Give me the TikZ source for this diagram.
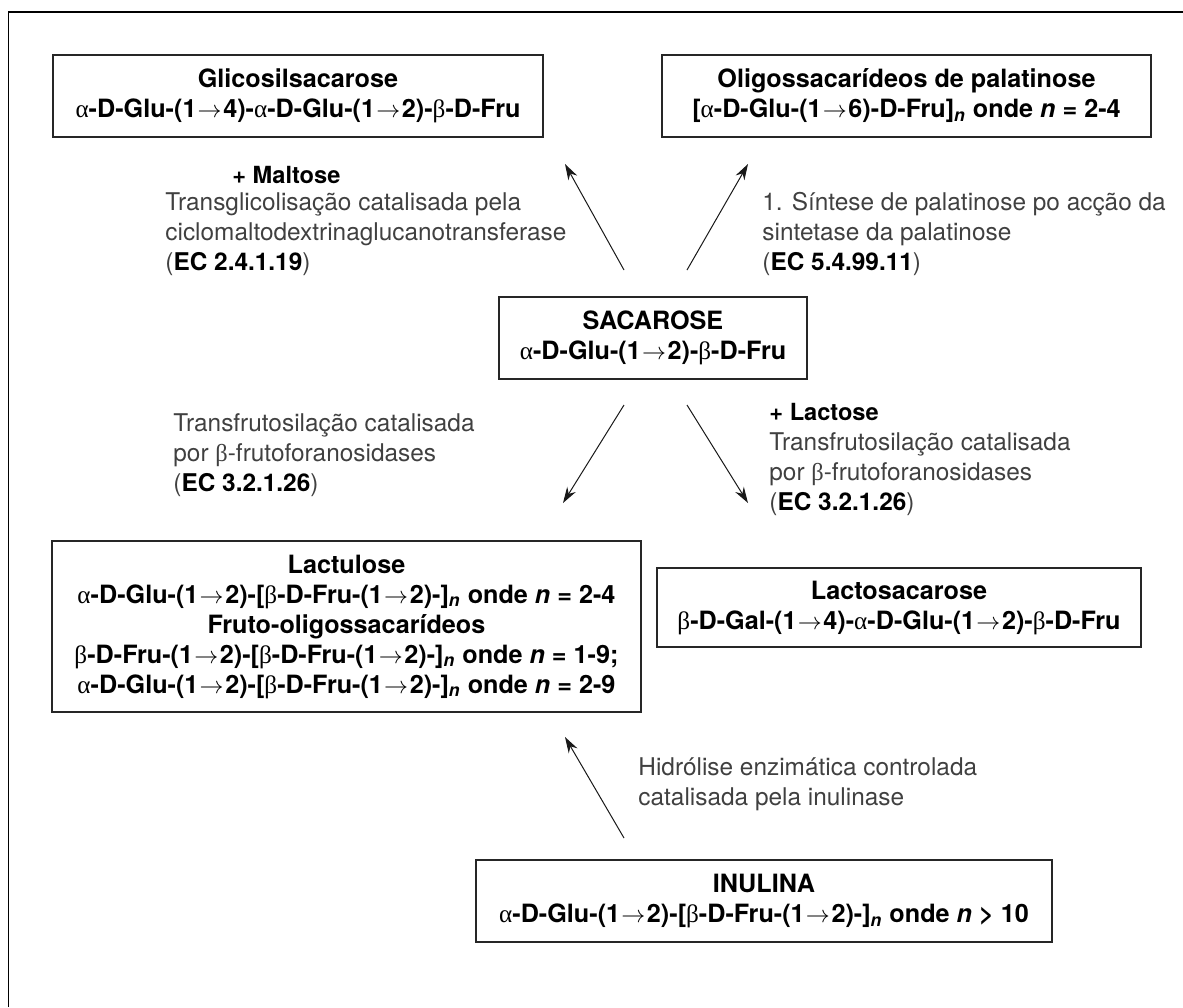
\documentclass[tikz,border=0pt]{standalone}
\usepackage{fontspec}
\setmainfont{TeX Gyre Heros}
\newfontfamily\grkfont{Liberation Serif}
\usetikzlibrary{arrows.meta}
% Greek letters in an upright serif, glycosidic link arrow, subscript n
\newcommand\ga{{\fontseries{m}\grkfont α}}
\newcommand\gb{{\fontseries{m}\grkfont β}}
\newcommand\lnk{\hspace{0.6pt}$\rightarrow$\hspace{0.8pt}}
\newcommand\sbn{\textsubscript{\textit{n}}}
\begin{document}
\begin{tikzpicture}[x=0.5pt,y=-0.5pt,
  box/.style={draw=black!85, line width=0.6pt, inner sep=0pt, align=center,
    font=\bfseries\fontsize{12.6}{15}\selectfont, text=black},
  lbl/.style={inner sep=0pt, align=left, anchor=base west,
    font=\fontsize{12.2}{15}\selectfont, text=black!75},
  flow/.style={-{Stealth[length=8pt,width=5pt]}, line width=0.5pt, black!90}]
\useasboundingbox (0,0) rectangle (1183,1007);
% frame
\draw[line width=0.8pt] (8.5,1007) -- (8.5,12) -- (1183,12);

% compounds
\node[box, minimum width=245pt, minimum height=41pt] (glic) at (298,96)
  {Glicosilsacarose\\ \ga-D-Glu-(1\lnk4)-\ga-D-Glu-(1\lnk2)-\gb-D-Fru};
\node[box, minimum width=244.5pt, minimum height=41pt] (oligo) at (906.5,96)
  {Oligossacarídeos de palatinose\\ {[}\ga-D-Glu-(1\lnk6)-D-Fru]\sbn{} onde \textit{n} = 2-4};
\node[box, minimum width=154pt, minimum height=41pt] (sac) at (653,338)
  {SACAROSE\\ \ga-D-Glu-(1\lnk2)-\gb-D-Fru};
\node[box, minimum width=294.5pt, minimum height=85.5pt] (lactu) at (346.5,626.5)
  {Lactulose\\
   \ga-D-Glu-(1\lnk2)-[\gb-D-Fru-(1\lnk2)-]\sbn{} onde \textit{n} = 2-4\\
   Fruto-oligossacarídeos\\
   \gb-D-Fru-(1\lnk2)-[\gb-D-Fru-(1\lnk2)-]\sbn{} onde \textit{n} = 1-9;\\
   \ga-D-Glu-(1\lnk2)-[\gb-D-Fru-(1\lnk2)-]\sbn{} onde \textit{n} = 2-9};
\node[box, minimum width=242pt, minimum height=39.5pt] (lactos) at (899,607.5)
  {Lactosacarose\\ \gb-D-Gal-(1\lnk4)-\ga-D-Glu-(1\lnk2)-\gb-D-Fru};
\node[box, minimum width=288pt, minimum height=41pt] (inul) at (764,901)
  {INULINA\\ \ga-D-Glu-(1\lnk2)-[\gb-D-Fru-(1\lnk2)-]\sbn{} onde \textit{n} > 10};

% reaction arrows
\coordinate (g0) at (624,270); \coordinate (g1) at (565,164);
\coordinate (p0) at (687,270); \coordinate (p1) at (748,164);
\coordinate (f0) at (624,405); \coordinate (f1) at (563,503);
\coordinate (l0) at (687,405); \coordinate (l1) at (748,503);
\coordinate (i0) at (624,838); \coordinate (i1) at (565,737);
\draw[flow] (g0) -- (g1);
\draw[flow] (p0) -- (p1);
\draw[flow] (f0) -- (f1);
\draw[flow] (l0) -- (l1);
\draw[flow] (i0) -- (i1);

% reaction conditions (each block is placed by the baseline of its last line)
\node[lbl, text=black, font=\bfseries\fontsize{11.8}{15}\selectfont] (malt) at (232,183) {+ Maltose};
\node[lbl] (cgt) at (165,270)
  {Transglicolisação catalisada pela\\ ciclomaltodextrinaglucanotransferase\\ ({\color{black}\bfseries EC 2.4.1.19})};
\node[lbl] (pal) at (762,270)
  {1. Síntese de palatinose po acção da\\ sintetase da palatinose\\ ({\color{black}\bfseries EC 5.4.99.11})};
\node[lbl] (ftf) at (173,491)
  {Transfrutosilação catalisada\\ por \gb-frutoforanosidases\\ ({\color{black}\bfseries EC 3.2.1.26})};
\node[lbl] (lac) at (769,510)
  {{\color{black}\bfseries\fontsize{11.8}{15}\selectfont + Lactose}\\ Transfrutosilação catalisada\\ por \gb-frutoforanosidases\\ ({\color{black}\bfseries EC 3.2.1.26})};
\node[lbl] (hid) at (638,805)
  {Hidrólise enzimática controlada\\ catalisada pela inulinase};
\end{tikzpicture}
\end{document}
